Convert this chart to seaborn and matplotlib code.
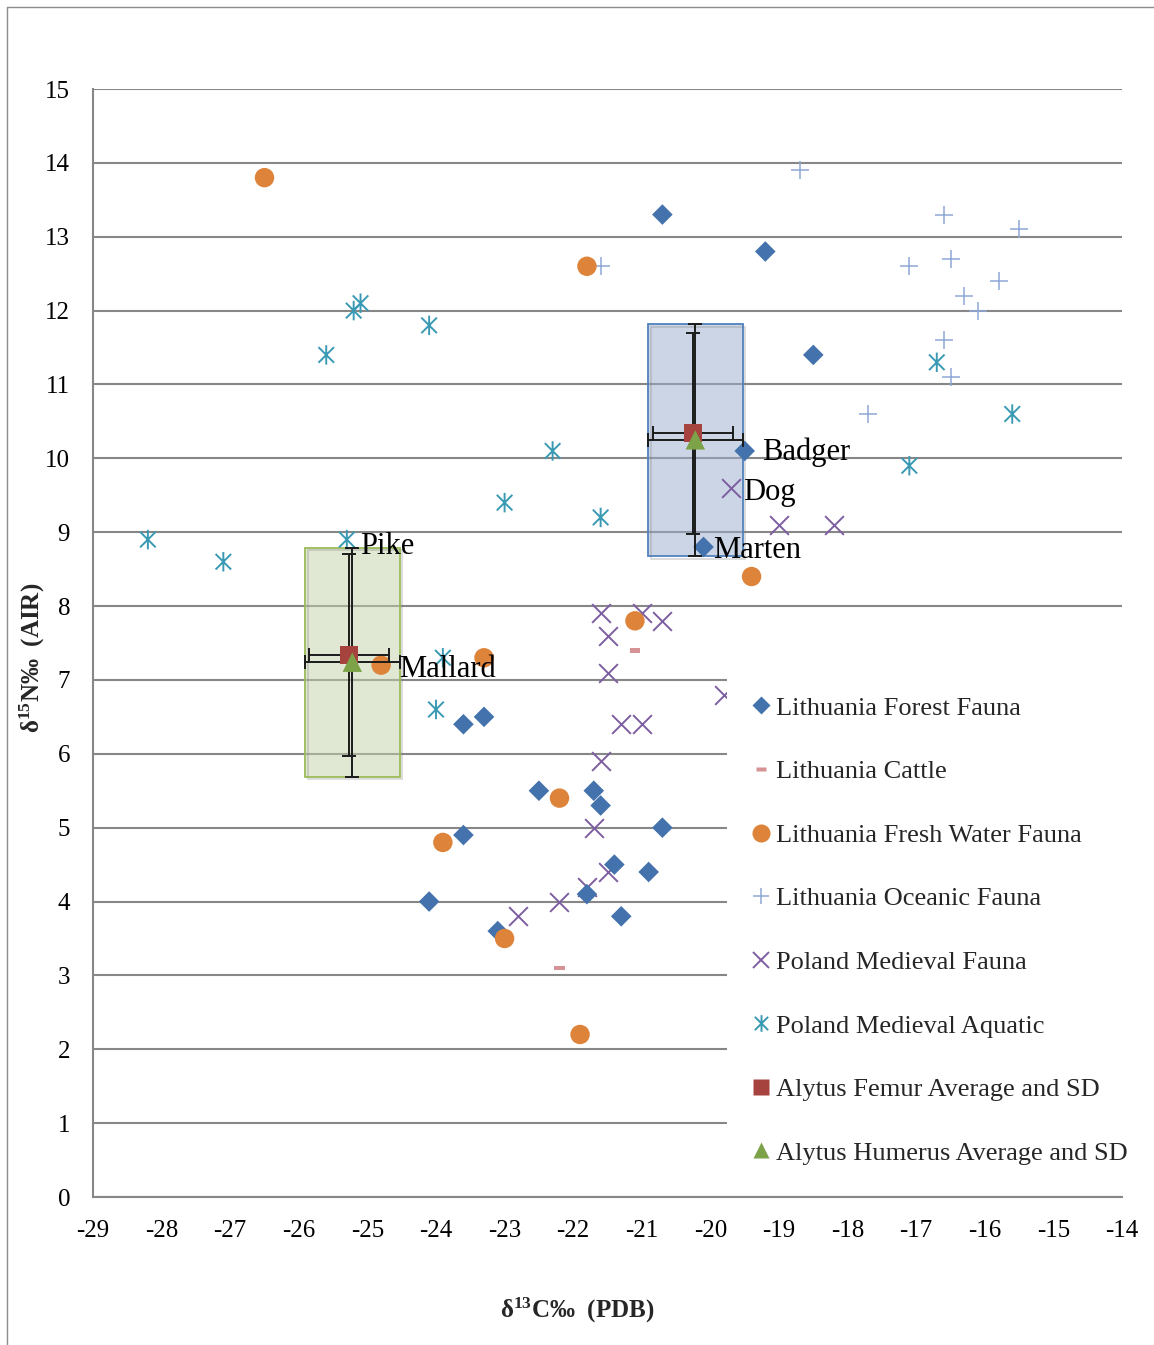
import matplotlib
matplotlib.use("Agg")
import matplotlib.pyplot as plt
import matplotlib.patheffects as pe
from matplotlib.lines import Line2D
from matplotlib.patches import Rectangle
from matplotlib.path import Path
import numpy as np
import pandas as pd
import seaborn as sns

# ---- data: d13C (PDB) and d15N (AIR) values ----
forest_c = [-20.7, -19.2, -18.5, -19.5, -20.1, -23.6, -23.3, -22.5, -21.7, -21.6,
            -20.7, -23.6, -21.4, -20.9, -21.8, -24.1, -21.3, -23.1]
forest_n = [13.3, 12.8, 11.4, 10.1, 8.8, 6.4, 6.5, 5.5, 5.5, 5.3,
            5.0, 4.9, 4.5, 4.4, 4.1, 4.0, 3.8, 3.6]

cattle_c = [-21.1, -22.2]
cattle_n = [7.4, 3.1]

fresh_c = [-26.5, -21.8, -19.4, -21.1, -23.3, -24.8, -22.2, -23.9, -23.0, -21.9]
fresh_n = [13.8, 12.6, 8.4, 7.8, 7.3, 7.2, 5.4, 4.8, 3.5, 2.2]

oceanic_c = [-18.7, -16.6, -15.5, -21.6, -17.1, -16.5, -15.8, -16.3, -16.1, -16.6, -16.5, -17.7]
oceanic_n = [13.9, 13.3, 13.1, 12.6, 12.6, 12.7, 12.4, 12.2, 12.0, 11.6, 11.1, 10.6]

poland_c = [-19.7, -19.0, -18.2, -21.6, -21.0, -20.7, -21.5, -21.5, -19.8, -21.3,
            -21.0, -21.6, -21.7, -21.5, -21.8, -22.2, -22.8]
poland_n = [9.6, 9.1, 9.1, 7.9, 7.9, 7.8, 7.6, 7.1, 6.8, 6.4,
            6.4, 5.9, 5.0, 4.4, 4.2, 4.0, 3.8]

aquatic_c = [-28.2, -27.1, -25.6, -25.2, -25.1, -24.1, -22.3, -23.0, -21.6, -25.3,
             -23.9, -24.0, -16.7, -17.1, -15.6]
aquatic_n = [8.9, 8.6, 11.4, 12.0, 12.1, 11.8, 10.1, 9.4, 9.2, 8.9,
             7.3, 6.6, 11.3, 9.9, 10.6]

femur_c = [-20.25, -25.27]
femur_n = [10.34, 7.34]
femur_sd_c = [0.58, 0.58]
femur_sd_n = [1.36, 1.37]

humerus_c = [-20.22, -25.22]
humerus_n = [10.25, 7.24]
humerus_sd_c = [0.69, 0.69]
humerus_sd_n = [1.57, 1.55]

# point labels: (text, x, y, dx px, dy px)
point_labels = [
    ("Badger", -19.5, 10.1, 17, -9),
    ("Dog", -19.7, 9.6, 12, -12),
    ("Marten", -20.1, 8.8, 10, -11),
    ("Pike", -25.3, 8.9, 13, -14),
    ("Mallard", -24.8, 7.2, 18, -12),
]

series_names = ["Lithuania Forest Fauna", "Lithuania Cattle", "Lithuania Fresh Water Fauna",
                "Lithuania Oceanic Fauna", "Poland Medieval Fauna", "Poland Medieval Aquatic",
                "Alytus Femur Average and SD", "Alytus Humerus Average and SD"]

x_ticks = list(range(-29, -13))
y_ticks = list(range(0, 16))

# ---- style ----
sns.set_style("white")
plt.rcParams["font.family"] = ["Liberation Serif", "DejaVu Serif"]
plt.rcParams["axes.unicode_minus"] = False
plt.rcParams["mathtext.fontset"] = "custom"
plt.rcParams["mathtext.rm"] = "Liberation Serif"
plt.rcParams["mathtext.bf"] = "Liberation Serif:bold"

C_FOREST = "#4472AC"
C_CATTLE = "#D69396"
C_FRESH = "#DE843A"
C_OCEAN = "#8FA8D6"
C_POLAND = "#7D5FA1"
C_AQUA = "#3A9AB4"
C_FEMUR = "#A6433F"
C_HUMERUS = "#7DA349"
GRID = "#878787"

DPI = 100
PX = 72.0 / DPI  # points per pixel

# custom marker shapes
asterisk = Path([(0, -1), (0, 1), (-0.8, -0.8), (0.8, 0.8), (-0.8, 0.8), (0.8, -0.8)],
                [Path.MOVETO, Path.LINETO, Path.MOVETO, Path.LINETO, Path.MOVETO, Path.LINETO])
dash = Path([(-1, -0.45), (1, -0.45), (1, 0.45), (-1, 0.45), (-1, -0.45)],
            [Path.MOVETO, Path.LINETO, Path.LINETO, Path.LINETO, Path.CLOSEPOLY])

fig = plt.figure(figsize=(11.54, 13.45), dpi=DPI)
ax = fig.add_axes([93 / 1154, 1 - 1197 / 1345, (1122 - 93) / 1154, (1197 - 89) / 1345])

# SD boxes (humerus mean +/- SD)
box_styles = [("#9AADCC", "#4F81BD"), ("#C3D0A8", "#9BBB59")]
for i, (fc, ec) in enumerate(box_styles):
    rect = Rectangle((humerus_c[i] - humerus_sd_c[i], humerus_n[i] - humerus_sd_n[i]),
                     2 * humerus_sd_c[i], 2 * humerus_sd_n[i],
                     facecolor=fc, alpha=0.5, edgecolor="none", zorder=1)
    ax.add_patch(rect)
    edge = Rectangle((humerus_c[i] - humerus_sd_c[i], humerus_n[i] - humerus_sd_n[i]),
                     2 * humerus_sd_c[i], 2 * humerus_sd_n[i],
                     facecolor="none", edgecolor=ec, linewidth=1.3, zorder=1.5)
    edge.set_path_effects([pe.SimpleLineShadow(offset=(2, -2), shadow_color="gray", alpha=0.3),
                           pe.Normal()])
    ax.add_patch(edge)


def scatter(xs, ys, marker, size, color, lw=0, kind="filled", z=3):
    df = pd.DataFrame({"c": xs, "n": ys})
    if kind == "filled":
        sns.scatterplot(data=df, x="c", y="n", marker=marker, s=size ** 2, color=color,
                        edgecolor="none", linewidth=0, ax=ax, legend=False, zorder=z)
    elif kind == "line":
        # line-only markers such as "+" and "x"
        sns.scatterplot(data=df, x="c", y="n", marker=marker, s=size ** 2, color=color,
                        linewidth=lw, ax=ax, legend=False, zorder=z)
    else:
        # open path marker drawn by its outline
        sns.scatterplot(data=df, x="c", y="n", marker=marker, s=size ** 2, color=color,
                        edgecolor=color, facecolor="none", linewidth=lw, ax=ax,
                        legend=False, zorder=z)


scatter(oceanic_c, oceanic_n, "+", 13, C_OCEAN, lw=1.1, kind="line")
scatter(aquatic_c, aquatic_n, asterisk, 14, C_AQUA, lw=1.4, kind="path")
scatter(poland_c, poland_n, "x", 13.5, C_POLAND, lw=1.4, kind="line")
scatter(forest_c, forest_n, "D", 10.5, C_FOREST)
scatter(fresh_c, fresh_n, "o", 14, C_FRESH)
scatter(cattle_c, cattle_n, dash, 7.5, C_CATTLE)

# averages with SD error bars
ax.errorbar(femur_c, femur_n, xerr=femur_sd_c, yerr=femur_sd_n, fmt="none",
            ecolor="#1b1b1b", elinewidth=1.4, capsize=5, capthick=1.4, zorder=4)
ax.errorbar(humerus_c, humerus_n, xerr=humerus_sd_c, yerr=humerus_sd_n, fmt="none",
            ecolor="#1b1b1b", elinewidth=1.4, capsize=5, capthick=1.4, zorder=4)
scatter(femur_c, femur_n, "s", 13, C_FEMUR, z=5)
scatter(humerus_c, humerus_n, "^", 14, C_HUMERUS, z=6)

# point labels
for txt, x, y, dx, dy in point_labels:
    ax.annotate(txt, (x, y), xytext=(dx * PX, dy * PX), textcoords="offset points",
                ha="left", va="baseline", fontsize=22, color="black", zorder=7)

# axes styling
ax.set_xlim(-29, -14)
ax.set_ylim(0, 15)
ax.set_xticks(x_ticks)
ax.set_yticks(y_ticks)
ax.set_xticklabels([str(v) for v in x_ticks])
ax.set_yticklabels([str(v) for v in y_ticks])
ax.yaxis.grid(True, color=GRID, linewidth=1.5, zorder=0)
ax.xaxis.grid(False)
ax.set_axisbelow(True)
for side in ("top", "right"):
    ax.spines[side].set_visible(False)
for side in ("left", "bottom"):
    ax.spines[side].set_color(GRID)
    ax.spines[side].set_linewidth(1.5)
ax.tick_params(axis="both", direction="out", length=5.5, width=1.5, color=GRID,
               labelsize=18, labelcolor="black")
ax.tick_params(axis="y", pad=11)
ax.tick_params(axis="x", pad=11)
ax.set_xlabel("")
ax.set_ylabel("")

# legend
handles = [
    Line2D([], [], ls="none", marker="D", ms=9.5, mfc=C_FOREST, mec="none"),
    Line2D([], [], ls="none", marker=dash, ms=7, mfc=C_CATTLE, mec="none"),
    Line2D([], [], ls="none", marker="o", ms=13, mfc=C_FRESH, mec="none"),
    Line2D([], [], ls="none", marker="+", ms=12, mec=C_OCEAN, mew=1.1),
    Line2D([], [], ls="none", marker="x", ms=11, mec=C_POLAND, mew=1.4),
    Line2D([], [], ls="none", marker=asterisk, ms=12, mec=C_AQUA, mfc="none", mew=1.4),
    Line2D([], [], ls="none", marker="s", ms=11, mfc=C_FEMUR, mec="none"),
    Line2D([], [], ls="none", marker="^", ms=12, mfc=C_HUMERUS, mec="none"),
]
leg = ax.legend(handles, series_names, loc="upper left", bbox_to_anchor=(0.616, 0.4735),
                frameon=True, facecolor="white", edgecolor="none", framealpha=1,
                fancybox=False, fontsize=19, labelspacing=1.52, handlelength=0.8,
                handletextpad=0.15, borderpad=0.9, borderaxespad=0)
leg.set_zorder(10)

# axis titles
fig.text(577 / 1154, 1 - 1310 / 1345, r"$\mathbf{δ^{13}}$" + "C‰  (PDB)",
         ha="center", va="center", fontsize=18, fontweight="bold")
fig.text(32 / 1154, 1 - 658 / 1345, r"$\mathbf{δ^{15}}$" + "N‰  (AIR)",
         ha="center", va="center", rotation=90, fontsize=18, fontweight="bold")

# chart frame edges
fig.add_artist(Line2D([7 / 1154, 7 / 1154], [0, 1 - 7 / 1345], transform=fig.transFigure,
                      color="#8c8c8c", linewidth=1))
fig.add_artist(Line2D([7 / 1154, 1], [1 - 7 / 1345, 1 - 7 / 1345], transform=fig.transFigure,
                      color="#8c8c8c", linewidth=1))

fig.savefig("out.png", dpi=DPI, facecolor="white")
